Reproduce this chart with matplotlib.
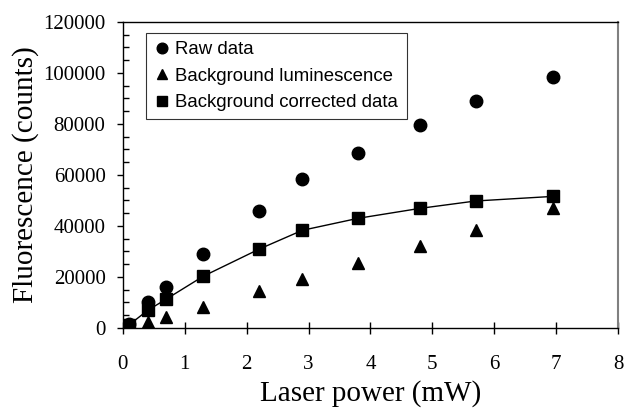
import numpy as np
import matplotlib
matplotlib.use('Agg')
import matplotlib.pyplot as plt

plt.rcParams['font.family'] = 'Liberation Serif'

# data
power = [0.1, 0.4, 0.7, 1.3, 2.2, 2.9, 3.8, 4.8, 5.7, 6.95]
raw = [1500, 10300, 16000, 29200, 46000, 58300, 68800, 79700, 89000, 98400]
background = [500, 2400, 4200, 8200, 14600, 19300, 25400, 32300, 38400, 46900]
corrected = [1200, 6900, 11300, 20300, 30900, 38300, 43000, 46900, 49800, 51600]

xticks = [0, 1, 2, 3, 4, 5, 6, 7, 8]
yticks = [0, 20000, 40000, 60000, 80000, 100000, 120000]

fig = plt.figure(figsize=(6.27, 4.12), dpi=100)
ax = fig.add_axes([0.196, 0.204, 0.7896, 0.7426])

ax.plot(power, corrected, '-', color='black', lw=1.0, zorder=2)
ax.plot(power, raw, 'o', color='black', ms=9, label='Raw data', zorder=3)
ax.plot(power, background, '^', color='black', ms=9, label='Background luminescence', zorder=3)
ax.plot(power, corrected, 's', color='black', ms=9, label='Background corrected data', zorder=4)

ax.set_xlim(0, 8)
ax.set_ylim(0, 120000)
ax.set_xticks(xticks)
ax.set_yticks(yticks)
ax.set_yticks(np.arange(0, 120001, 5000), minor=True)
ax.tick_params(axis='x', direction='inout', length=9, width=1, labelsize=15, pad=15)
ax.tick_params(axis='y', which='major', direction='out', length=4.5, width=1, labelsize=15, pad=8)
ax.tick_params(axis='y', which='minor', direction='in', length=4, width=1)
ax.tick_params(axis='x', which='minor', bottom=False)

for s in ['left', 'top', 'bottom']:
    ax.spines[s].set_color('black')
    ax.spines[s].set_linewidth(1.0)
ax.spines['right'].set_color('gray')
ax.spines['right'].set_linewidth(1.5)

ax.set_xlabel('Laser power (mW)', fontsize=21, labelpad=4)
ax.set_ylabel('Fluorescence (counts)', fontsize=21, labelpad=3)

leg = ax.legend(loc='upper left', bbox_to_anchor=(0.046, 0.964), borderaxespad=0,
                prop={'family': 'Liberation Sans', 'size': 13.4}, frameon=True,
                fancybox=False, edgecolor='black', handlelength=0.9, handletextpad=0.25,
                markerscale=0.85, labelspacing=0.5, borderpad=0.45)
leg.get_frame().set_linewidth(0.8)

fig.savefig('out.png', dpi=100)
